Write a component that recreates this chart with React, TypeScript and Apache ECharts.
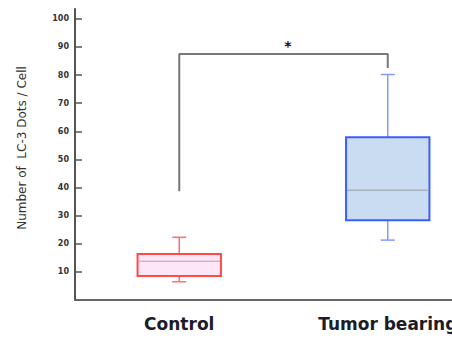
import React, { useEffect, useRef } from "react";
import * as echarts from "echarts";

const categories = ["Control", "Tumor bearing"];
// [min, Q1, median, Q3, max]
const controlStats = [6.5, 8.5, 13.8, 16.4, 22.3];
const tumorStats = [21.3, 28.4, 39.0, 57.9, 80.2];
const yTickValues = [10, 20, 30, 40, 50, 60, 70, 80, 90, 100];
const bracketLeft = 38.7;
const bracketTop = 87.5;
const bracketRight = 82.5;
const yAxisTitle = "Number of  LC-3 Dots / Cell";
const sigLabel = "*";

const palette = [
  { border: "#ff4a4a", fill: "#fde6f5", median: "#d6b2c6", whisker: "#ff6f6f" },
  { border: "#3c5dff", fill: "#cadcf1", median: "#a5b1bd", whisker: "#8499ff" },
];

export default function App() {
  const ref = useRef<HTMLDivElement>(null);
  useEffect(() => {
    if (!ref.current) return;
    const chart = echarts.init(ref.current, null, { renderer: "svg" });
    const boxData = [controlStats, tumorStats].map((s, i) => [i, ...s]);
    chart.setOption({
      animation: false,
      backgroundColor: "#ffffff",
      grid: { left: 75, right: 0, top: 9, bottom: 38 },
      xAxis: {
        type: "category",
        data: categories,
        boundaryGap: true,
        axisLine: { lineStyle: { color: "#666666", width: 2 } },
        axisTick: { show: false },
        axisLabel: {
          color: "#1c1c28",
          fontSize: 17,
          fontWeight: "bold",
          fontFamily: "DejaVu Sans",
          margin: 15,
        },
        splitLine: { show: false },
      },
      yAxis: {
        type: "value",
        min: 0,
        max: 103.5,
        axisLine: { show: true, lineStyle: { color: "#555555", width: 2 } },
        axisTick: {
          show: true,
          inside: true,
          length: 7,
          customValues: yTickValues,
          lineStyle: { color: "#555555", width: 1.5 },
        },
        axisLabel: {
          customValues: yTickValues,
          color: "#333333",
          fontSize: 8,
          fontWeight: "bold",
          fontFamily: "DejaVu Sans",
          margin: 6,
        },
        splitLine: { show: false },
      },
      graphic: [
        {
          type: "text",
          x: 22,
          y: 148,
          rotation: Math.PI / 2,
          style: {
            text: yAxisTitle,
            fontSize: 12,
            fontFamily: "DejaVu Sans",
            fill: "#333333",
            align: "center",
            verticalAlign: "middle",
          },
        },
        {
          type: "text",
          x: 288,
          y: 46,
          style: {
            text: sigLabel,
            fontSize: 14,
            fontWeight: "bold",
            fontFamily: "DejaVu Sans",
            fill: "#111111",
            align: "center",
            verticalAlign: "middle",
          },
        },
      ],
      series: [
        {
          type: "line",
          data: [
            [categories[0], bracketLeft],
            [categories[0], bracketTop],
            [categories[1], bracketTop],
            [categories[1], bracketRight],
          ],
          symbol: "none",
          lineStyle: { color: "#777777", width: 2 },
          silent: true,
        },
        {
          type: "custom",
          data: boxData,
          encode: { x: 0, y: [1, 2, 3, 4, 5] },
          renderItem: (params: any, api: any) => {
            const x = api.value(0);
            const pMin = api.coord([x, api.value(1)]);
            const pQ1 = api.coord([x, api.value(2)]);
            const pMed = api.coord([x, api.value(3)]);
            const pQ3 = api.coord([x, api.value(4)]);
            const pMax = api.coord([x, api.value(5)]);
            const cx = pMed[0];
            const bw = api.size([1, 0])[0] * 0.4;
            const cap = 7;
            const c = palette[params.dataIndex];
            const ws = { stroke: c.whisker, lineWidth: 1.5 };
            return {
              type: "group",
              children: [
                { type: "line", shape: { x1: cx, y1: pMax[1], x2: cx, y2: pQ3[1] }, style: ws },
                { type: "line", shape: { x1: cx, y1: pQ1[1], x2: cx, y2: pMin[1] }, style: ws },
                { type: "line", shape: { x1: cx - cap, y1: pMax[1], x2: cx + cap, y2: pMax[1] }, style: ws },
                { type: "line", shape: { x1: cx - cap, y1: pMin[1], x2: cx + cap, y2: pMin[1] }, style: ws },
                {
                  type: "rect",
                  shape: { x: cx - bw / 2, y: pQ3[1], width: bw, height: pQ1[1] - pQ3[1] },
                  style: { fill: c.fill, stroke: c.border, lineWidth: 2 },
                },
                {
                  type: "line",
                  shape: { x1: cx - bw / 2 + 1, y1: pMed[1], x2: cx + bw / 2 - 1, y2: pMed[1] },
                  style: { stroke: c.median, lineWidth: 1.5 },
                },
              ],
            };
          },
        },
      ],
    });
    return () => chart.dispose();
  }, []);
  return (
    <div
      ref={ref}
      style={{ position: "fixed", left: 0, top: 0, width: 492, height: 338 }}
    />
  );
}
